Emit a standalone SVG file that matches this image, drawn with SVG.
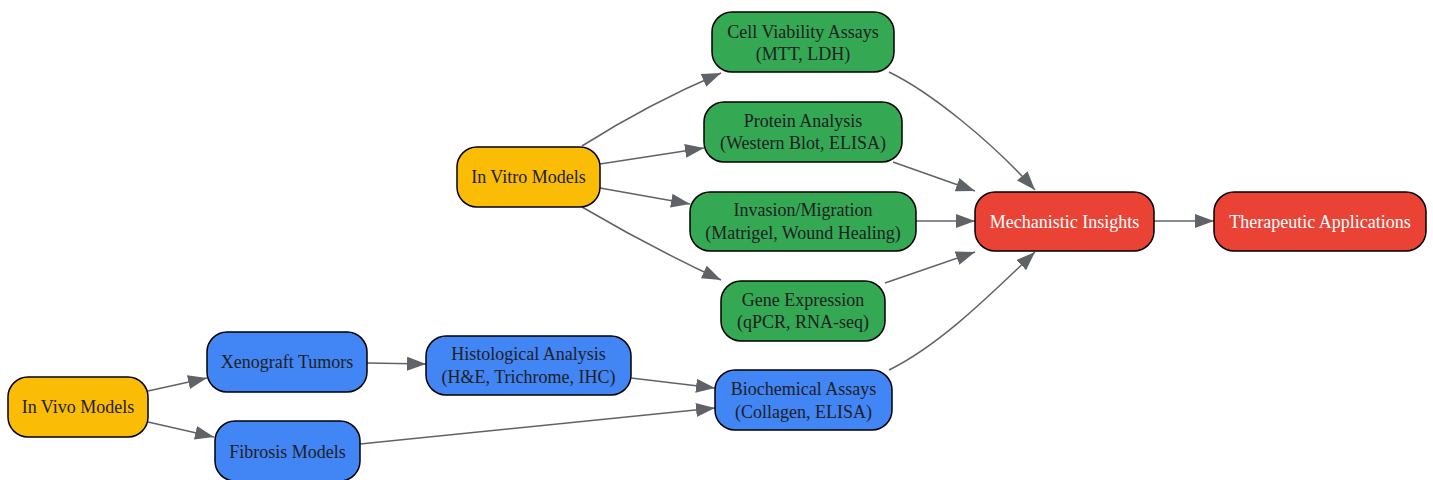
<svg xmlns="http://www.w3.org/2000/svg" width="1433" height="480" viewBox="0 0 1433 480">
<defs>
<style>
.n rect{stroke:#000;stroke-width:1.5}
.y rect{fill:#FBBC05}
.g rect{fill:#34A853}
.b rect{fill:#4285F4}
.r rect{fill:#EA4335}
text{font-family:"Liberation Serif","Times New Roman",serif;font-size:18px;text-anchor:middle;fill:#202124}
.r text{fill:#ffffff}
.e path{fill:none;stroke:#5f6368;stroke-width:1.5}
</style>
<marker id="a" markerUnits="userSpaceOnUse" markerWidth="20" markerHeight="14" refX="19" refY="7" orient="auto">
<path d="M0,0 L19,7 L0,14 Z" fill="#5f6368"/>
</marker>
</defs>
<g class="e">
<path d="M582,146 Q650,103 721,73" marker-end="url(#a)"/>
<path d="M600,164 L704,148" marker-end="url(#a)"/>
<path d="M600,188 L690,204" marker-end="url(#a)"/>
<path d="M582,207 Q650,247 721,280" marker-end="url(#a)"/>
<path d="M889,72 C930,92 990,140 1035,190" marker-end="url(#a)"/>
<path d="M893,162 L975,191" marker-end="url(#a)"/>
<path d="M916,221 L975,221" marker-end="url(#a)"/>
<path d="M885,283 L975,252" marker-end="url(#a)"/>
<path d="M889,370 C940,345 990,295 1035,252" marker-end="url(#a)"/>
<path d="M1154,221 L1214,221" marker-end="url(#a)"/>
<path d="M148,391 L207,378" marker-end="url(#a)"/>
<path d="M148,422 L214,437" marker-end="url(#a)"/>
<path d="M367,363 L426,364" marker-end="url(#a)"/>
<path d="M631,378 L715,388" marker-end="url(#a)"/>
<path d="M360,444 L715,408" marker-end="url(#a)"/>
</g>
<g id="invitro" class="n y"><rect x="457" y="147" width="143" height="60" rx="20"/><text x="528.5" y="183">In Vitro Models</text></g>
<g id="invivo" class="n y"><rect x="8" y="377" width="140" height="60" rx="20"/><text x="78" y="413">In Vivo Models</text></g>
<g id="cellviab" class="n g"><rect x="712" y="12" width="182" height="60" rx="20"/><text x="803" y="38">Cell Viability Assays</text><text x="803" y="60">(MTT, LDH)</text></g>
<g id="protein" class="n g"><rect x="704" y="102" width="198" height="60" rx="20"/><text x="803" y="127">Protein Analysis</text><text x="803" y="149">(Western Blot, ELISA)</text></g>
<g id="invasion" class="n g"><rect x="690" y="192" width="226" height="59" rx="20"/><text x="803" y="216">Invasion/Migration</text><text x="803" y="239">(Matrigel, Wound Healing)</text></g>
<g id="gene" class="n g"><rect x="721" y="281" width="164" height="60" rx="20"/><text x="803" y="306">Gene Expression</text><text x="803" y="328">(qPCR, RNA-seq)</text></g>
<g id="xeno" class="n b"><rect x="207" y="332" width="160" height="60" rx="20"/><text x="287" y="368">Xenograft Tumors</text></g>
<g id="fibrosis" class="n b"><rect x="215" y="421" width="145" height="60" rx="20"/><text x="287.5" y="458">Fibrosis Models</text></g>
<g id="histo" class="n b"><rect x="426" y="336" width="205" height="59" rx="20"/><text x="528.5" y="360">Histological Analysis</text><text x="528.5" y="383">(H&amp;E, Trichrome, IHC)</text></g>
<g id="biochem" class="n b"><rect x="715" y="370" width="177" height="60" rx="20"/><text x="803.5" y="395">Biochemical Assays</text><text x="803.5" y="418">(Collagen, ELISA)</text></g>
<g id="mech" class="n r"><rect x="975" y="192" width="179" height="59" rx="20"/><text x="1064.5" y="228">Mechanistic Insights</text></g>
<g id="thera" class="n r"><rect x="1214" y="192" width="212" height="59" rx="20"/><text x="1320" y="228">Therapeutic Applications</text></g>
</svg>
